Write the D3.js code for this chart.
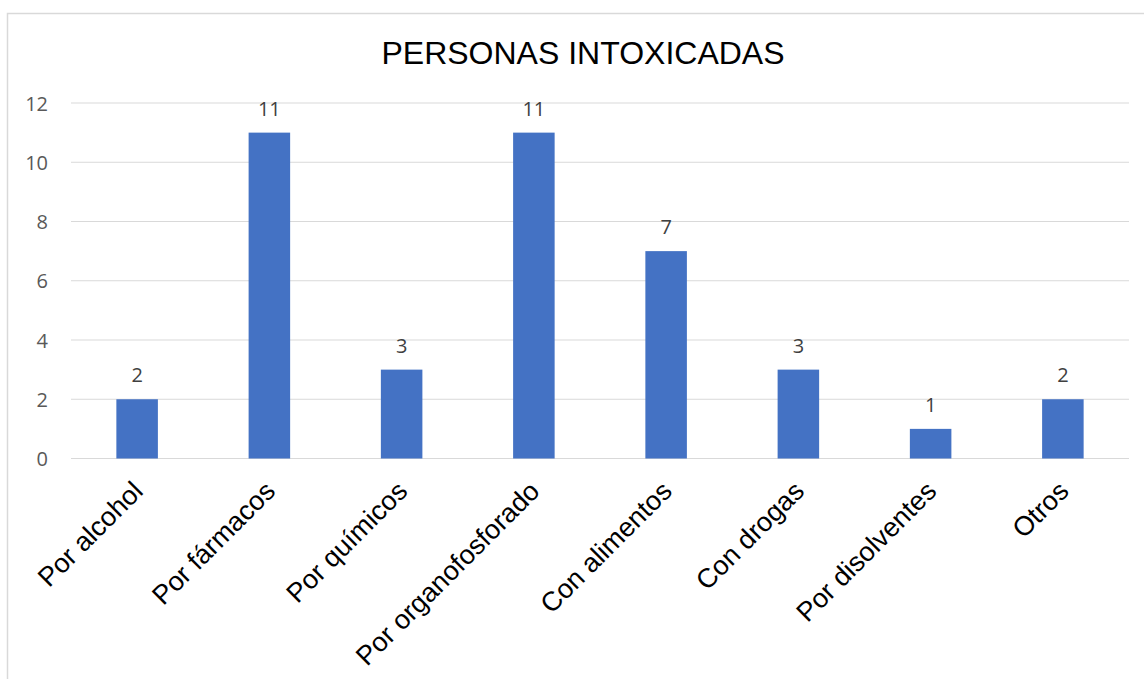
<!DOCTYPE html>
<html lang="es">
<head>
  <meta charset="UTF-8">
  <title>Personas intoxicadas</title>
  <script src="https://d3js.org/d3.v7.min.js"></script>
  <style>
    body { margin: 0; background: #fff; font-family: "Liberation Sans", Arial, sans-serif; }
  </style>
</head>
<body>
<svg id="chart" width="1144" height="679"></svg>
<script>
// Data
const categories = ["Por alcohol", "Por fármacos", "Por químicos", "Por organofosforado",
                    "Con alimentos", "Con drogas", "Por disolventes", "Otros"];
const values = [2, 11, 3, 11, 7, 3, 1, 2];
const yTicks = [0, 2, 4, 6, 8, 10, 12];
const title = "PERSONAS INTOXICADAS";

const svg = d3.select("#chart");
const margin = { top: 103, right: 15, bottom: 221, left: 71 };
const width = 1144, height = 679;
const numFont = "Open Sans, Noto Sans, sans-serif";

// chart frame
svg.append("rect")
  .attr("x", 7.5).attr("y", 13.5)
  .attr("width", 1150).attr("height", 700)
  .attr("fill", "none")
  .attr("stroke", "#d9d9d9")
  .attr("stroke-width", 1.5);

const x = d3.scaleBand()
  .domain(categories)
  .range([margin.left, width - margin.right])
  .paddingInner(0.686)
  .paddingOuter(0.343);

const y = d3.scaleLinear()
  .domain([0, 12])
  .range([height - margin.bottom + 0.5, margin.top]);

// gridlines
svg.append("g")
  .selectAll("line")
  .data(yTicks)
  .join("line")
  .attr("x1", margin.left).attr("x2", width - margin.right)
  .attr("y1", d => y(d)).attr("y2", d => y(d))
  .attr("stroke", "#d9d9d9")
  .attr("stroke-width", 1.2);

// y axis labels
const yAxis = svg.append("g")
  .attr("transform", `translate(${margin.left - 23},0)`)
  .call(d3.axisLeft(y).tickValues(yTicks).tickSize(0).tickPadding(0));
yAxis.select(".domain").remove();
yAxis.selectAll("text")
  .attr("font-size", 20)
  .attr("font-family", numFont)
  .attr("fill", "#595959")
  .attr("dy", "0.36em");

// bars
svg.append("g")
  .selectAll("rect")
  .data(values)
  .join("rect")
  .attr("x", (d, i) => x(categories[i]))
  .attr("y", d => y(d))
  .attr("width", x.bandwidth())
  .attr("height", d => y(0) - y(d))
  .attr("fill", "#4472c4");

// data labels
svg.append("g")
  .selectAll("text")
  .data(values)
  .join("text")
  .attr("x", (d, i) => x(categories[i]) + x.bandwidth() / 2)
  .attr("y", d => y(d) - 17)
  .attr("text-anchor", "middle")
  .attr("font-size", 20)
  .attr("font-family", numFont)
  .attr("fill", "#404040")
  .text(d => d);

// x axis labels
const xAxis = svg.append("g")
  .attr("transform", `translate(0,${y(0)})`)
  .call(d3.axisBottom(x).tickSize(0).tickPadding(0));
xAxis.select(".domain").remove();
xAxis.selectAll("text")
  .attr("font-size", 27)
  .attr("font-family", "Liberation Sans, Arial, sans-serif")
  .attr("fill", "#000")
  .attr("text-anchor", "end")
  .attr("dy", "0.75em")
  .attr("transform", "translate(-7,20) rotate(-45)");

// title
svg.append("text")
  .attr("x", 583)
  .attr("y", 64)
  .attr("text-anchor", "middle")
  .attr("font-size", 32)
  .attr("fill", "#000")
  .text(title);
</script>
</body>
</html>
